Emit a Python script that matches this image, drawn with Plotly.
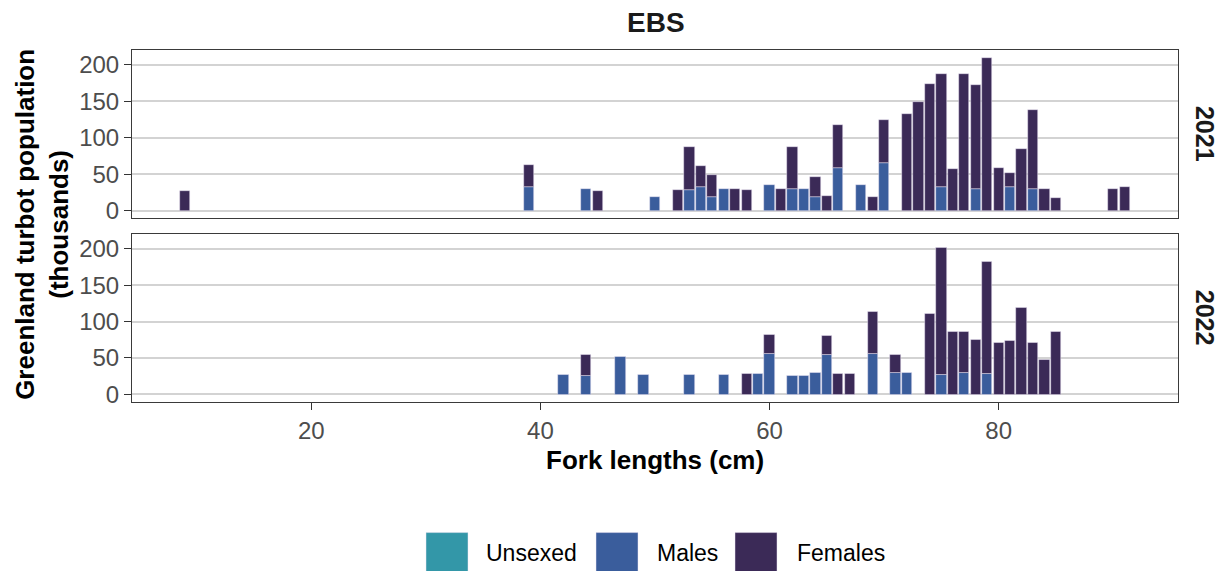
import plotly.graph_objects as go

# ---------------- data (thousands of fish) ----------------
len_2021 = [9, 39, 44, 45, 50, 52, 53, 54, 55, 56, 57, 58, 60, 61, 62, 63, 64, 65, 66,
            68, 69, 70, 72, 73, 74, 75, 76, 77, 78, 79, 80, 81, 82, 83, 84, 85, 90, 91]
males_2021 = [0, 32, 30, 0, 19, 0, 28, 32, 19, 29, 0, 0, 35, 0, 29, 29, 19, 0, 59,
              35, 0, 65, 0, 0, 0, 32, 0, 0, 30, 0, 0, 32, 0, 29, 0, 0, 0, 0]
females_2021 = [27, 30, 0, 27, 0, 28, 59, 29, 30, 0, 29, 28, 0, 30, 58, 0, 27, 20, 58,
                0, 19, 59, 133, 149, 174, 155, 57, 188, 143, 210, 58, 19, 85, 109, 30, 17, 30, 32]

len_2022 = [42, 44, 47, 49, 53, 56, 58, 59, 60, 62, 63, 64, 65, 66, 67, 69, 71, 72,
            74, 75, 76, 77, 78, 79, 80, 81, 82, 83, 84, 85]
males_2022 = [27, 26, 52, 27, 27, 27, 0, 28, 56, 26, 25, 29, 54, 0, 0, 56, 29, 29,
              0, 27, 0, 30, 0, 28, 0, 0, 0, 0, 0, 0]
females_2022 = [0, 28, 0, 0, 0, 0, 28, 0, 26, 0, 0, 0, 26, 28, 28, 58, 25, 0,
                110, 174, 86, 56, 75, 154, 71, 74, 119, 71, 47, 86]

years = ["2021", "2022"]
sex_names = ["Unsexed", "Males", "Females"]
sex_colors = ["#3397A8", "#3A5D9C", "#3B2A57"]

x_ticks = [20, 40, 60, 80]
y_ticks = [0, 50, 100, 150, 200]

# ---------------- figure ----------------
OFF = 8  # page body margin
W, H = 1225 - OFF, 571 - OFF
PL, PT, PR, PB = 132, 50, 1178, 402.3  # plot area in page pixels
L, T = PL - OFF, PT - OFF
R, B = W - (PR - OFF), H - (PB - OFF)
pw, ph = W - L - R, H - T - B

def px_x(p):
    return (p - OFF - L) / pw

def px_y(p):
    return (H - B - (p - OFF)) / ph

FONT = "Liberation Sans, Arial, sans-serif"

fig = go.Figure()
data = {
    "2021": (len_2021, males_2021, females_2021, "x2", "y2"),
    "2022": (len_2022, males_2022, females_2022, "x", "y"),
}
for yr in years:
    lens, m, f, xa, ya = data[yr]
    for name, vals, col in [("Males", m, sex_colors[1]), ("Females", f, sex_colors[2])]:
        xs, ys, bases = [], [], []
        for i, (l, v) in enumerate(zip(lens, vals)):
            if v > 0:
                xs.append(l)
                ys.append(v)
                bases.append(m[i] if name == "Females" else 0)
        fig.add_trace(go.Bar(
            x=xs, y=ys, base=bases, width=0.9, name=name, showlegend=False,
            marker=dict(color=col, line=dict(color="rgba(235,230,245,0.8)", width=0.6)),
            xaxis=xa, yaxis=ya,
        ))

axis_common = dict(
    showline=True, mirror=True, linecolor="#3a3a3a", linewidth=1,
    ticklen=7, tickwidth=1.3, tickcolor="#333333",
    tickfont=dict(family=FONT, size=24, color="#4D4D4D"),
    zeroline=False,
)
xr = [4.35, 95.65]
yr_ = [-10.5, 220.5]
split = 184 / ph
fig.update_layout(
    width=W, height=H,
    margin=dict(l=L, r=R, t=T, b=B, pad=0),
    paper_bgcolor="white", plot_bgcolor="white",
    barmode="overlay", bargap=0,
    showlegend=False,
    font=dict(family=FONT),
    xaxis=dict(domain=[0, 1], range=xr, anchor="y", tickvals=x_ticks, ticks="outside",
               showgrid=False, **axis_common),
    yaxis=dict(domain=[0, 1 - split], range=yr_, anchor="x", tickvals=y_ticks, ticks="outside",
               showgrid=True, gridcolor="#D3D3D3", gridwidth=1.6, **axis_common),
    xaxis2=dict(domain=[0, 1], range=xr, anchor="y2", matches="x", tickvals=x_ticks,
                showticklabels=False, showgrid=False, ticks="", **axis_common),
    yaxis2=dict(domain=[split, 1], range=yr_, anchor="x2", tickvals=y_ticks, ticks="outside",
                showgrid=True, gridcolor="#D3D3D3", gridwidth=1.6, **axis_common),
)

ann = []
# title
ann.append(dict(text="<b>EBS</b>", x=px_x(656), y=px_y(22), xref="paper", yref="paper",
                xanchor="center", yanchor="middle", showarrow=False,
                font=dict(family=FONT, size=28, color="#1a1a1a")))
# axis titles
ann.append(dict(text="<b>Fork lengths (cm)</b>", x=px_x(655), y=px_y(460), xref="paper", yref="paper",
                xanchor="center", yanchor="middle", showarrow=False,
                font=dict(family=FONT, size=26, color="black")))
ann.append(dict(text="<b>Greenland turbot population<br>(thousands)</b>", x=px_x(42), y=px_y(225),
                xref="paper", yref="paper", xanchor="center", yanchor="middle",
                textangle=-90, showarrow=False,
                font=dict(family=FONT, size=26, color="black")))
# strip labels
for yr, cy in zip(years, [134, 318]):
    ann.append(dict(text="<b>" + yr + "</b>", x=px_x(1205), y=px_y(cy), xref="paper", yref="paper",
                    xanchor="center", yanchor="middle", textangle=90, showarrow=False,
                    font=dict(family=FONT, size=25, color="#1a1a1a")))

# legend (manual, large keys like ggplot)
shapes = []
key_left = [426, 596, 735]
text_left = [484, 655, 795]
for name, col, kx, tx in zip(sex_names, sex_colors, key_left, text_left):
    shapes.append(dict(type="rect", xref="paper", yref="paper",
                       x0=px_x(kx), x1=px_x(kx + 42), y0=px_y(533), y1=px_y(576),
                       fillcolor=col, line=dict(color="rgba(235,230,245,0.8)", width=0.6)))
    ann.append(dict(text=name, x=px_x(tx), y=px_y(553), xref="paper", yref="paper",
                    xanchor="left", yanchor="middle", showarrow=False,
                    font=dict(family=FONT, size=23, color="black")))

fig.update_layout(annotations=ann, shapes=shapes)
fig.write_html("out.html")
